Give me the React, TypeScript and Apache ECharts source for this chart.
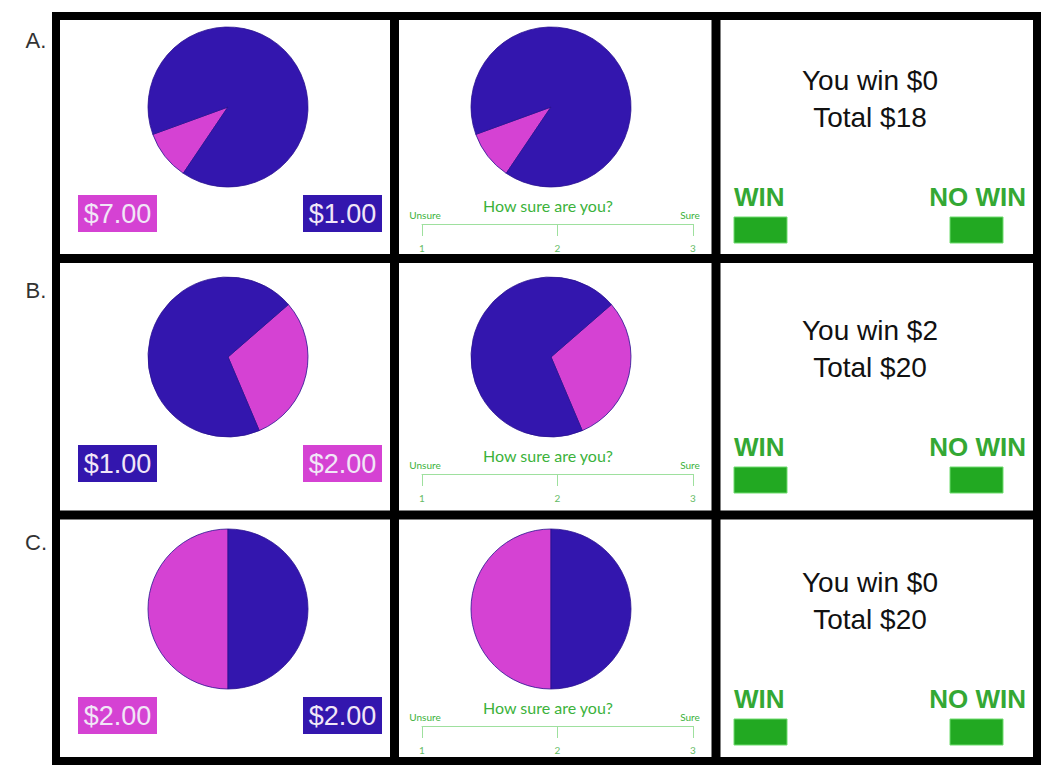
import React, { useEffect, useRef } from "react";
import * as echarts from "echarts";

// ---------- data ----------
const rowLetters = ["A.", "B.", "C."];
const magentaShare = [10, 30, 50];
const blueShare = [90, 70, 50];
const pieStartAngles = [236, 41, 270];
const leftAmounts = ["$7.00", "$1.00", "$2.00"];
const leftAmountKind = ["m", "b", "m"];
const rightAmounts = ["$1.00", "$2.00", "$2.00"];
const rightAmountKind = ["b", "m", "b"];
const winAmounts = [0, 2, 0];
const totals = [18, 20, 20];
const scaleTicks = ["1", "2", "3"];
const scaleEnds = ["Unsure", "Sure"];
const scaleQuestion = "How sure are you?";
const choiceLabels = ["WIN", "NO WIN"];

// ---------- styles ----------
const BLUE = "#3316ae";
const MAGENTA = "#d542d3";
const GREEN_TXT = "#3bb23b";
const GREEN_LIGHT = "#9ee09e";
const rowY = [0, 250, 502];
const pieCx = [228, 551];

export default function App() {
  const ref = useRef<HTMLDivElement>(null);
  useEffect(() => {
    if (!ref.current) return;
    const chart = echarts.init(ref.current, null, { renderer: "svg" });

    const series: any[] = [];
    rowLetters.forEach((_, r) => {
      pieCx.forEach((cx) => {
        series.push({
          type: "pie",
          silent: true,
          center: [cx, rowY[r] + 107],
          radius: 80,
          startAngle: pieStartAngles[r],
          clockwise: true,
          label: { show: false },
          labelLine: { show: false },
          emphasis: { disabled: true },
          itemStyle: { borderColor: "#2a1290", borderWidth: 0.8 },
          data: [
            { name: "win", value: magentaShare[r], itemStyle: { color: MAGENTA } },
            { name: "nowin", value: blueShare[r], itemStyle: { color: BLUE } },
          ],
        });
      });
    });

    const grids: any[] = [];
    const xAxes: any[] = [];
    const yAxes: any[] = [];
    rowLetters.forEach((_, r) => {
      grids.push({ left: 422, width: 271, top: rowY[r] + 200, height: 24 });
      xAxes.push({
        type: "value",
        gridIndex: r,
        min: 1,
        max: 3,
        interval: 1,
        position: "bottom",
        axisLine: { show: true, lineStyle: { color: GREEN_LIGHT, width: 1 } },
        axisTick: { show: true, length: 12, lineStyle: { color: GREEN_LIGHT } },
        splitLine: { show: false },
        axisLabel: {
          color: "#66bb66",
          fontSize: 10,
          fontFamily: "Lato",
          margin: 19,
          formatter: (v: number) => scaleTicks[v - 1] ?? "",
        },
      });
      yAxes.push({ type: "value", gridIndex: r, show: false });
      series.push({ type: "line", xAxisIndex: r, yAxisIndex: r, data: [], silent: true });
    });

    const g: any[] = [];
    // frame
    g.push({
      type: "rect",
      shape: { x: 56, y: 16, width: 981, height: 745 },
      style: { fill: "none", stroke: "#000", lineWidth: 8 },
    });
    [394.5, 716].forEach((x) =>
      g.push({ type: "line", shape: { x1: x, y1: 16, x2: x, y2: 761 }, style: { stroke: "#000", lineWidth: 9 } })
    );
    [258.5, 515].forEach((y) =>
      g.push({ type: "line", shape: { x1: 56, y1: y, x2: 1037, y2: y }, style: { stroke: "#000", lineWidth: 9 } })
    );

    rowLetters.forEach((letter, r) => {
      const y0 = rowY[r];
      g.push({
        type: "text",
        x: 36,
        y: y0 + 40,
        style: {
          text: letter,
          fill: "#333",
          font: "22px 'Liberation Sans', Arial, sans-serif",
          align: "center",
          verticalAlign: "middle",
        },
      });
      // amount boxes
      const boxes = [
        { x: 78, text: leftAmounts[r], kind: leftAmountKind[r] },
        { x: 303, text: rightAmounts[r], kind: rightAmountKind[r] },
      ];
      boxes.forEach((b) => {
        g.push({
          type: "rect",
          shape: { x: b.x, y: y0 + 195, width: 79, height: 37 },
          style: { fill: b.kind === "m" ? MAGENTA : BLUE },
        });
        g.push({
          type: "text",
          x: b.x + 39.5,
          y: y0 + 214,
          style: {
            text: b.text,
            fill: "#f1e6f7",
            font: "27px 'Liberation Sans', Arial, sans-serif",
            align: "center",
            verticalAlign: "middle",
          },
        });
      });
      // scale texts
      g.push({
        type: "text",
        x: 548,
        y: y0 + 205,
        style: {
          text: scaleQuestion,
          fill: GREEN_TXT,
          font: "16px Lato, sans-serif",
          align: "center",
          verticalAlign: "middle",
        },
      });
      g.push({
        type: "text",
        x: 425,
        y: y0 + 215,
        style: { text: scaleEnds[0], fill: GREEN_TXT, font: "10px Lato, sans-serif", align: "center", verticalAlign: "middle" },
      });
      g.push({
        type: "text",
        x: 690,
        y: y0 + 215,
        style: { text: scaleEnds[1], fill: GREEN_TXT, font: "10px Lato, sans-serif", align: "center", verticalAlign: "middle" },
      });
      // right panel
      g.push({
        type: "text",
        x: 870,
        y: y0 + 80,
        style: {
          text: `You win $${winAmounts[r]}`,
          fill: "#111",
          font: "28px 'Liberation Sans', Arial, sans-serif",
          align: "center",
          verticalAlign: "middle",
        },
      });
      g.push({
        type: "text",
        x: 870,
        y: y0 + 117,
        style: {
          text: `Total $${totals[r]}`,
          fill: "#111",
          font: "28px 'Liberation Sans', Arial, sans-serif",
          align: "center",
          verticalAlign: "middle",
        },
      });
      g.push({
        type: "text",
        x: 734,
        y: y0 + 197,
        style: {
          text: choiceLabels[0],
          fill: "#34a834",
          font: "bold 26px 'Liberation Sans', Arial, sans-serif",
          align: "left",
          verticalAlign: "middle",
        },
      });
      g.push({
        type: "text",
        x: 1026,
        y: y0 + 197,
        style: {
          text: choiceLabels[1],
          fill: "#34a834",
          font: "bold 26px 'Liberation Sans', Arial, sans-serif",
          align: "right",
          verticalAlign: "middle",
        },
      });
      [734, 950].forEach((x) =>
        g.push({
          type: "rect",
          shape: { x, y: y0 + 217, width: 53, height: 26 },
          style: { fill: "#22a922", stroke: "#6fdc6f", lineWidth: 1 },
        })
      );
    });

    chart.setOption({
      animation: false,
      backgroundColor: "#fff",
      grid: grids,
      xAxis: xAxes,
      yAxis: yAxes,
      series,
      graphic: { elements: g },
    });
    return () => chart.dispose();
  }, []);

  return (
    <div
      ref={ref}
      style={{ position: "absolute", left: 0, top: 0, width: 1050, height: 774 }}
    />
  );
}
